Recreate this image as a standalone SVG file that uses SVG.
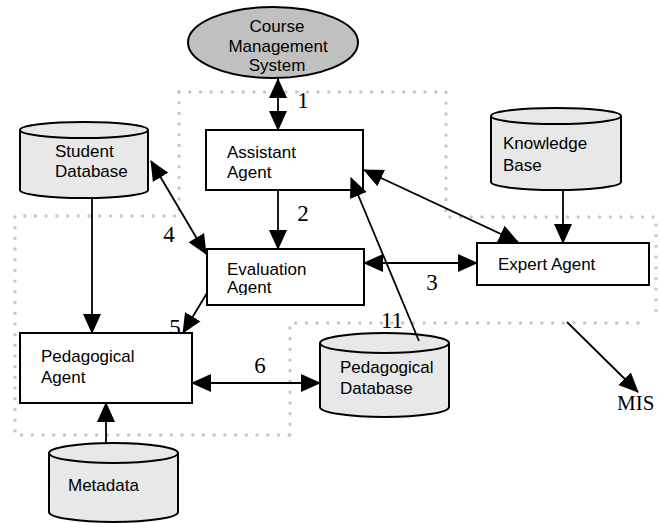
<svg xmlns="http://www.w3.org/2000/svg" width="660" height="523" viewBox="0 0 660 523">
<style>
.dot{fill:none;stroke:#c6c6c6;stroke-width:3.4;stroke-dasharray:0 10.7;stroke-linecap:round}
.box{fill:#fff;stroke:#000;stroke-width:2}
.cyl{fill:#e8e8e8;stroke:#000;stroke-width:2}
.lbl{font-family:"Liberation Sans",Arial,sans-serif;font-size:17px;fill:#000}
.num{font-family:"Liberation Serif","Times New Roman",serif;font-size:23px;fill:#000}
.mis{font-family:"Liberation Serif","Times New Roman",serif;font-size:21px;fill:#000}
.con{fill:none;stroke:#000;stroke-width:1.8}
</style>
<defs>
<marker id="ah" markerUnits="userSpaceOnUse" markerWidth="20" markerHeight="20" viewBox="0 0 20 20" refX="19" refY="10" orient="auto-start-reverse">
<path d="M0,1 L20,10 L0,19 Z" fill="#000"/>
</marker>
<clipPath id="clipA"><rect x="200" y="125" width="170" height="56"/></clipPath>
<clipPath id="clipE"><rect x="200" y="245" width="170" height="50"/></clipPath>
</defs>
<rect width="660" height="523" fill="#fff"/>
<g id="regions">
<path class="dot" d="M179,92 H446 V217 H656 V313"/>
<path class="dot" d="M179,92 V216 H15 V435 H297"/>
<path class="dot" d="M290,435 V323 H648"/>
</g>
<g id="labels">
<text class="num" x="303" y="108" text-anchor="middle">1</text>
<text class="num" x="303" y="221" text-anchor="middle">2</text>
<text class="num" x="432" y="290" text-anchor="middle">3</text>
<text class="num" x="169" y="242" text-anchor="middle">4</text>
<text class="num" x="175" y="335" text-anchor="middle">5</text>
<text class="num" x="260" y="373" text-anchor="middle">6</text>
<text class="num" x="392" y="328" text-anchor="middle">11</text>
<text class="mis" x="617" y="410">MIS</text>
</g>
<g id="cms">
<ellipse cx="273" cy="42.5" rx="85" ry="35.5" fill="#c0c0c0" stroke="#000" stroke-width="2"/>
<text class="lbl" x="277" y="32" text-anchor="middle">Course</text>
<text class="lbl" x="278" y="52" text-anchor="middle">Management</text>
<text class="lbl" x="277" y="71" text-anchor="middle">System</text>
</g>
<g id="assistant">
<rect class="box" x="206" y="130" width="157" height="60"/>
<g clip-path="url(#clipA)">
<text class="lbl" x="227" y="158">Assistant</text>
<text class="lbl" x="227" y="178">Agent</text>
</g>
</g>
<g id="student-db">
<path class="cyl" d="M20,130 A64,8 0 0 1 148,130 V190 A64,8 0 0 1 20,190 Z"/>
<path class="cyl" d="M20,130 A64,8 0 0 0 148,130"/>
<text class="lbl" x="55" y="157">Student</text>
<text class="lbl" x="55" y="177">Database</text>
</g>
<g id="knowledge-base">
<path class="cyl" d="M491,116 A65,8 0 0 1 621,116 V182 A65,8 0 0 1 491,182 Z"/>
<path class="cyl" d="M491,116 A65,8 0 0 0 621,116"/>
<text class="lbl" x="503" y="149">Knowledge</text>
<text class="lbl" x="503" y="171">Base</text>
</g>
<g id="evaluation">
<rect class="box" x="207" y="249" width="157" height="56"/>
<g clip-path="url(#clipE)">
<text class="lbl" x="227" y="275">Evaluation</text>
<text class="lbl" x="227" y="293">Agent</text>
</g>
</g>
<g id="expert">
<rect class="box" x="477" y="243" width="172" height="42"/>
<text class="lbl" x="498" y="270">Expert Agent</text>
</g>
<g id="pedagogical-agent">
<rect class="box" x="20" y="333" width="172" height="70"/>
<text class="lbl" x="41" y="362">Pedagogical</text>
<text class="lbl" x="41" y="383">Agent</text>
</g>
<g id="pedagogical-db">
<path class="cyl" d="M320,343 A64.5,10 0 0 1 449,343 V407 A64.5,10 0 0 1 320,407 Z"/>
<path class="cyl" d="M320,343 A64.5,10 0 0 0 449,343"/>
<text class="lbl" x="340" y="373">Pedagogical</text>
<text class="lbl" x="340" y="394">Database</text>
</g>
<g id="metadata">
<path class="cyl" d="M49,453 A64.5,10 0 0 1 178,453 V512 A64.5,10 0 0 1 49,512 Z"/>
<path class="cyl" d="M49,453 A64.5,10 0 0 0 178,453"/>
<text class="lbl" x="68" y="491">Metadata</text>
</g>
<g id="connectors">
<line class="con" x1="278" y1="79" x2="278" y2="130" marker-start="url(#ah)" marker-end="url(#ah)"/>
<line class="con" x1="278" y1="190" x2="278" y2="249" marker-end="url(#ah)"/>
<line class="con" x1="364" y1="263" x2="477" y2="263" marker-start="url(#ah)" marker-end="url(#ah)"/>
<line class="con" x1="151" y1="161" x2="206" y2="254" marker-start="url(#ah)" marker-end="url(#ah)"/>
<line class="con" x1="207" y1="293" x2="183" y2="333" marker-end="url(#ah)"/>
<line class="con" x1="192" y1="383" x2="320" y2="383" marker-start="url(#ah)" marker-end="url(#ah)"/>
<line class="con" x1="419" y1="341" x2="351" y2="178" marker-end="url(#ah)"/>
<line class="con" x1="364" y1="170" x2="518" y2="242" marker-start="url(#ah)" marker-end="url(#ah)"/>
<line class="con" x1="563" y1="190" x2="563" y2="243" marker-end="url(#ah)"/>
<line class="con" x1="92" y1="198" x2="92" y2="333" marker-end="url(#ah)"/>
<line class="con" x1="106" y1="443" x2="106" y2="403" marker-end="url(#ah)"/>
<line class="con" x1="567" y1="322" x2="638" y2="392" marker-end="url(#ah)"/>
</g>
</svg>
